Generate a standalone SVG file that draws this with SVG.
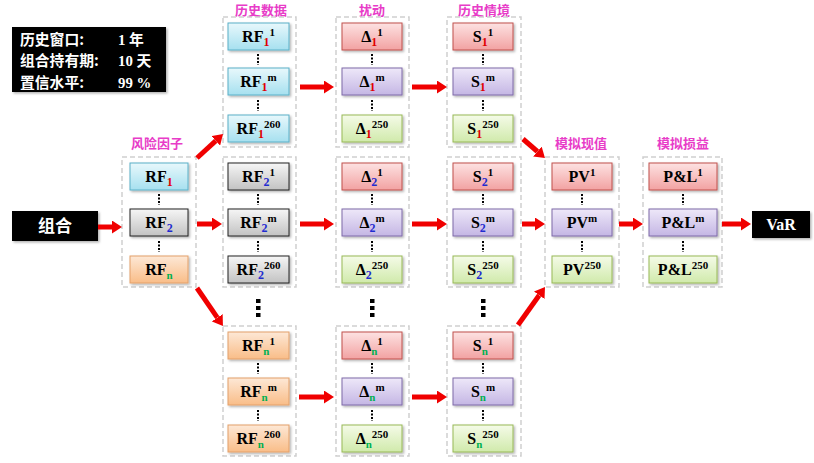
<svg xmlns="http://www.w3.org/2000/svg" width="814" height="463" viewBox="0 0 814 463">
<defs>
<linearGradient id="gB" x1="0" y1="0" x2="0" y2="1"><stop offset="0" stop-color="#e8f8fc"/><stop offset="1" stop-color="#a6e0ef"/></linearGradient>
<linearGradient id="gG" x1="0" y1="0" x2="0" y2="1"><stop offset="0" stop-color="#f6f6f6"/><stop offset="1" stop-color="#c2c2c2"/></linearGradient>
<linearGradient id="gO" x1="0" y1="0" x2="0" y2="1"><stop offset="0" stop-color="#fde8d6"/><stop offset="1" stop-color="#f9bd88"/></linearGradient>
<linearGradient id="gR" x1="0" y1="0" x2="0" y2="1"><stop offset="0" stop-color="#fde2e2"/><stop offset="1" stop-color="#f2a2a2"/></linearGradient>
<linearGradient id="gP" x1="0" y1="0" x2="0" y2="1"><stop offset="0" stop-color="#eee8f9"/><stop offset="1" stop-color="#c4b6e4"/></linearGradient>
<linearGradient id="gV" x1="0" y1="0" x2="0" y2="1"><stop offset="0" stop-color="#f5fbe8"/><stop offset="1" stop-color="#d0eaab"/></linearGradient>
<filter id="sh" x="-20%" y="-20%" width="140%" height="150%"><feDropShadow dx="1.5" dy="1.5" stdDeviation="1" flood-color="#000" flood-opacity="0.3"/></filter>
<marker id="ah" markerUnits="userSpaceOnUse" viewBox="0 0 10 13" refX="0" refY="6.5" markerWidth="10" markerHeight="13" orient="auto"><path d="M0,0 L10,6.5 L0,13 z" fill="#f00000"/></marker>
</defs>
<style>
.bx{stroke-width:1;filter:url(#sh)}
.cB{fill:url(#gB);stroke:#5ab0c8}
.cG{fill:url(#gG);stroke:#222}
.cO{fill:url(#gO);stroke:#e3a06a}
.cR{fill:url(#gR);stroke:#c0504d}
.cP{fill:url(#gP);stroke:#7f6aa8}
.cV{fill:url(#gV);stroke:#98b956}
.t{font-family:"Liberation Serif","DejaVu Serif",serif;font-weight:bold;font-size:16px;text-anchor:middle;fill:#000}
.sb{font-size:12px}
.s1{fill:#e00000}
.s2{fill:#1f2bd0}
.sn{fill:#00b050;font-size:11px}
.sp{font-size:11px}
.grp{fill:none;stroke:#cfcfcf;stroke-width:1.5;stroke-dasharray:5 3}
.lbl{font-family:"Noto Sans CJK SC",sans-serif;font-weight:bold;font-size:13px;fill:#e83cc8;text-anchor:middle}
.dt{stroke:#000;stroke-width:2;stroke-dasharray:2 1.5}
.bd{fill:#000}
.ar{stroke:#f00000;stroke-width:5;fill:none;marker-end:url(#ah)}
.wt{fill:#fff;font-weight:bold;font-size:14.8px}
.cj{font-family:"Noto Sans CJK SC",sans-serif}
.sf{font-family:"Liberation Serif","Noto Sans CJK SC",serif}
</style>
<rect width="814" height="463" fill="#fff"/>

<g id="info">
<rect x="12" y="27" width="154" height="65" fill="#000" filter="url(#sh)"/>
<text class="wt cj" x="20" y="44.5">历史窗口:</text>
<text class="wt sf" x="118" y="44.5">1 年</text>
<text class="wt cj" x="20" y="66">组合持有期:</text>
<text class="wt sf" x="118" y="66">10 天</text>
<text class="wt cj" x="20" y="87.5">置信水平:</text>
<text class="wt sf" x="118" y="87.5">99 %</text>
</g>

<g id="portfolio">
<rect x="12" y="211" width="86" height="30" fill="#000" filter="url(#sh)"/>
<text class="cj" x="55" y="232" fill="#fff" font-size="17" font-weight="bold" text-anchor="middle">组合</text>
</g>

<g id="var">
<rect x="752" y="211" width="58" height="27" fill="#000" filter="url(#sh)"/>
<text class="t" x="781" y="230" style="fill:#fff">VaR</text>
</g>

<g id="labels">
<text class="lbl" x="157" y="148">风险因子</text>
<text class="lbl" x="261" y="15">历史数据</text>
<text class="lbl" x="372" y="15">扰动</text>
<text class="lbl" x="484" y="15">历史情境</text>
<text class="lbl" x="581" y="148">模拟现值</text>
<text class="lbl" x="683" y="148">模拟损益</text>
</g>

<g id="groups">
<rect class="grp" x="122" y="157" width="74" height="130"/>
<rect class="grp" x="223" y="17" width="73" height="130"/>
<rect class="grp" x="223" y="157" width="73" height="130"/>
<rect class="grp" x="223" y="326" width="73" height="130"/>
<rect class="grp" x="336" y="17" width="73" height="130"/>
<rect class="grp" x="336" y="157" width="73" height="130"/>
<rect class="grp" x="336" y="326" width="73" height="130"/>
<rect class="grp" x="447" y="17" width="74" height="130"/>
<rect class="grp" x="447" y="157" width="74" height="130"/>
<rect class="grp" x="447" y="326" width="74" height="130"/>
<rect class="grp" x="545" y="157" width="74" height="130"/>
<rect class="grp" x="643" y="157" width="79" height="130"/>
</g>

<g id="dots">
<line class="dt" x1="159" y1="194" x2="159" y2="205"/><line class="dt" x1="159" y1="241" x2="159" y2="252"/>
<line class="dt" x1="258" y1="54" x2="258" y2="65"/><line class="dt" x1="258" y1="100" x2="258" y2="111"/>
<line class="dt" x1="258" y1="194" x2="258" y2="205"/><line class="dt" x1="258" y1="241" x2="258" y2="252"/>
<line class="dt" x1="258" y1="363" x2="258" y2="374"/><line class="dt" x1="258" y1="410" x2="258" y2="421"/>
<line class="dt" x1="372" y1="54" x2="372" y2="65"/><line class="dt" x1="372" y1="100" x2="372" y2="111"/>
<line class="dt" x1="372" y1="194" x2="372" y2="205"/><line class="dt" x1="372" y1="241" x2="372" y2="252"/>
<line class="dt" x1="372" y1="363" x2="372" y2="374"/><line class="dt" x1="372" y1="410" x2="372" y2="421"/>
<line class="dt" x1="483" y1="54" x2="483" y2="65"/><line class="dt" x1="483" y1="100" x2="483" y2="111"/>
<line class="dt" x1="483" y1="194" x2="483" y2="205"/><line class="dt" x1="483" y1="241" x2="483" y2="252"/>
<line class="dt" x1="483" y1="363" x2="483" y2="374"/><line class="dt" x1="483" y1="410" x2="483" y2="421"/>
<line class="dt" x1="582" y1="194" x2="582" y2="205"/><line class="dt" x1="582" y1="241" x2="582" y2="252"/>
<line class="dt" x1="683" y1="194" x2="683" y2="205"/><line class="dt" x1="683" y1="241" x2="683" y2="252"/>
<rect class="bd" x="256" y="299" width="4.5" height="4"/><rect class="bd" x="256" y="306" width="4.5" height="4"/><rect class="bd" x="256" y="313" width="4.5" height="4"/>
<rect class="bd" x="370" y="299" width="4.5" height="4"/><rect class="bd" x="370" y="306" width="4.5" height="4"/><rect class="bd" x="370" y="313" width="4.5" height="4"/>
<rect class="bd" x="481" y="299" width="4.5" height="4"/><rect class="bd" x="481" y="306" width="4.5" height="4"/><rect class="bd" x="481" y="313" width="4.5" height="4"/>
</g>

<!-- risk factors -->
<g id="rf1"><rect class="bx cB" x="130" y="163" width="58" height="27"/><text class="t" x="159" y="182">RF<tspan class="sb s1" dy="4">1</tspan></text></g>
<g id="rf2"><rect class="bx cG" x="130" y="209" width="58" height="27"/><text class="t" x="159" y="228">RF<tspan class="sb s2" dy="4">2</tspan></text></g>
<g id="rfn"><rect class="bx cO" x="130" y="256" width="58" height="27"/><text class="t" x="159" y="275">RF<tspan class="sn" dy="4">n</tspan></text></g>

<!-- historical data -->
<g id="h1_1"><rect class="bx cB" x="228" y="23" width="61" height="27"/><text class="t" x="258.5" y="42">RF<tspan class="sb s1" dy="4">1</tspan><tspan class="sp" dy="-10">1</tspan></text></g>
<g id="h1_m"><rect class="bx cB" x="228" y="68" width="61" height="27"/><text class="t" x="258.5" y="87">RF<tspan class="sb s1" dy="4">1</tspan><tspan class="sp" dy="-10">m</tspan></text></g>
<g id="h1_260"><rect class="bx cB" x="228" y="115" width="61" height="27"/><text class="t" x="258.5" y="134">RF<tspan class="sb s1" dy="4">1</tspan><tspan class="sp" dy="-10">260</tspan></text></g>
<g id="h2_1"><rect class="bx cG" x="228" y="163" width="61" height="27"/><text class="t" x="258.5" y="182">RF<tspan class="sb s2" dy="4">2</tspan><tspan class="sp" dy="-10">1</tspan></text></g>
<g id="h2_m"><rect class="bx cG" x="228" y="209" width="61" height="27"/><text class="t" x="258.5" y="228">RF<tspan class="sb s2" dy="4">2</tspan><tspan class="sp" dy="-10">m</tspan></text></g>
<g id="h2_260"><rect class="bx cG" x="228" y="256" width="61" height="27"/><text class="t" x="258.5" y="275">RF<tspan class="sb s2" dy="4">2</tspan><tspan class="sp" dy="-10">260</tspan></text></g>
<g id="hn_1"><rect class="bx cO" x="228" y="332" width="61" height="27"/><text class="t" x="258.5" y="351">RF<tspan class="sn" dy="4">n</tspan><tspan class="sp" dy="-10">1</tspan></text></g>
<g id="hn_m"><rect class="bx cO" x="228" y="378" width="61" height="27"/><text class="t" x="258.5" y="397">RF<tspan class="sn" dy="4">n</tspan><tspan class="sp" dy="-10">m</tspan></text></g>
<g id="hn_260"><rect class="bx cO" x="228" y="425" width="61" height="27"/><text class="t" x="258.5" y="444">RF<tspan class="sn" dy="4">n</tspan><tspan class="sp" dy="-10">260</tspan></text></g>

<!-- shocks -->
<g id="d1_1"><rect class="bx cR" x="342" y="23" width="60" height="27"/><text class="t" x="372" y="42">Δ<tspan class="sb s1" dy="4">1</tspan><tspan class="sp" dy="-10">1</tspan></text></g>
<g id="d1_m"><rect class="bx cP" x="342" y="68" width="60" height="27"/><text class="t" x="372" y="87">Δ<tspan class="sb s1" dy="4">1</tspan><tspan class="sp" dy="-10">m</tspan></text></g>
<g id="d1_250"><rect class="bx cV" x="342" y="115" width="60" height="27"/><text class="t" x="372" y="134">Δ<tspan class="sb s1" dy="4">1</tspan><tspan class="sp" dy="-10">250</tspan></text></g>
<g id="d2_1"><rect class="bx cR" x="342" y="163" width="60" height="27"/><text class="t" x="372" y="182">Δ<tspan class="sb s2" dy="4">2</tspan><tspan class="sp" dy="-10">1</tspan></text></g>
<g id="d2_m"><rect class="bx cP" x="342" y="209" width="60" height="27"/><text class="t" x="372" y="228">Δ<tspan class="sb s2" dy="4">2</tspan><tspan class="sp" dy="-10">m</tspan></text></g>
<g id="d2_250"><rect class="bx cV" x="342" y="256" width="60" height="27"/><text class="t" x="372" y="275">Δ<tspan class="sb s2" dy="4">2</tspan><tspan class="sp" dy="-10">250</tspan></text></g>
<g id="dn_1"><rect class="bx cR" x="342" y="332" width="60" height="27"/><text class="t" x="372" y="351">Δ<tspan class="sn" dy="4">n</tspan><tspan class="sp" dy="-10">1</tspan></text></g>
<g id="dn_m"><rect class="bx cP" x="342" y="378" width="60" height="27"/><text class="t" x="372" y="397">Δ<tspan class="sn" dy="4">n</tspan><tspan class="sp" dy="-10">m</tspan></text></g>
<g id="dn_250"><rect class="bx cV" x="342" y="425" width="60" height="27"/><text class="t" x="372" y="444">Δ<tspan class="sn" dy="4">n</tspan><tspan class="sp" dy="-10">250</tspan></text></g>

<!-- scenarios -->
<g id="s1_1"><rect class="bx cR" x="453" y="23" width="60" height="27"/><text class="t" x="483" y="42">S<tspan class="sb s1" dy="4">1</tspan><tspan class="sp" dy="-10">1</tspan></text></g>
<g id="s1_m"><rect class="bx cP" x="453" y="68" width="60" height="27"/><text class="t" x="483" y="87">S<tspan class="sb s1" dy="4">1</tspan><tspan class="sp" dy="-10">m</tspan></text></g>
<g id="s1_250"><rect class="bx cV" x="453" y="115" width="60" height="27"/><text class="t" x="483" y="134">S<tspan class="sb s1" dy="4">1</tspan><tspan class="sp" dy="-10">250</tspan></text></g>
<g id="s2_1"><rect class="bx cR" x="453" y="163" width="60" height="27"/><text class="t" x="483" y="182">S<tspan class="sb s2" dy="4">2</tspan><tspan class="sp" dy="-10">1</tspan></text></g>
<g id="s2_m"><rect class="bx cP" x="453" y="209" width="60" height="27"/><text class="t" x="483" y="228">S<tspan class="sb s2" dy="4">2</tspan><tspan class="sp" dy="-10">m</tspan></text></g>
<g id="s2_250"><rect class="bx cV" x="453" y="256" width="60" height="27"/><text class="t" x="483" y="275">S<tspan class="sb s2" dy="4">2</tspan><tspan class="sp" dy="-10">250</tspan></text></g>
<g id="sn_1"><rect class="bx cR" x="453" y="332" width="60" height="27"/><text class="t" x="483" y="351">S<tspan class="sn" dy="4">n</tspan><tspan class="sp" dy="-10">1</tspan></text></g>
<g id="sn_m"><rect class="bx cP" x="453" y="378" width="60" height="27"/><text class="t" x="483" y="397">S<tspan class="sn" dy="4">n</tspan><tspan class="sp" dy="-10">m</tspan></text></g>
<g id="sn_250"><rect class="bx cV" x="453" y="425" width="60" height="27"/><text class="t" x="483" y="444">S<tspan class="sn" dy="4">n</tspan><tspan class="sp" dy="-10">250</tspan></text></g>

<!-- present values -->
<g id="pv_1"><rect class="bx cR" x="552" y="163" width="60" height="27"/><text class="t" x="582" y="182">PV<tspan class="sp" dy="-6">1</tspan></text></g>
<g id="pv_m"><rect class="bx cP" x="552" y="209" width="60" height="27"/><text class="t" x="582" y="228">PV<tspan class="sp" dy="-6">m</tspan></text></g>
<g id="pv_250"><rect class="bx cV" x="552" y="256" width="60" height="27"/><text class="t" x="582" y="275">PV<tspan class="sp" dy="-6">250</tspan></text></g>

<!-- P&L -->
<g id="pl_1"><rect class="bx cR" x="649" y="163" width="68" height="27"/><text class="t" x="683" y="182">P&amp;L<tspan class="sp" dy="-6">1</tspan></text></g>
<g id="pl_m"><rect class="bx cP" x="649" y="209" width="68" height="27"/><text class="t" x="683" y="228">P&amp;L<tspan class="sp" dy="-6">m</tspan></text></g>
<g id="pl_250"><rect class="bx cV" x="649" y="256" width="68" height="27"/><text class="t" x="683" y="275">P&amp;L<tspan class="sp" dy="-6">250</tspan></text></g>

<g id="connectors">
<line class="ar" x1="98" y1="227" x2="112" y2="227"/>
<line class="ar" x1="197" y1="224" x2="212" y2="224"/>
<line class="ar" x1="197" y1="158" x2="215.7" y2="140.8"/>
<line class="ar" x1="197" y1="288" x2="217.3" y2="317.7"/>
<line class="ar" x1="300" y1="87" x2="324" y2="87"/>
<line class="ar" x1="412" y1="87" x2="437" y2="87"/>
<line class="ar" x1="300" y1="224" x2="324" y2="224"/>
<line class="ar" x1="412" y1="224" x2="437" y2="224"/>
<line class="ar" x1="299" y1="397" x2="324" y2="397"/>
<line class="ar" x1="412" y1="397" x2="437" y2="397"/>
<line class="ar" x1="523" y1="139" x2="537.4" y2="151.5"/>
<line class="ar" x1="522" y1="224" x2="535" y2="224"/>
<line class="ar" x1="518" y1="325" x2="539.2" y2="295.2"/>
<line class="ar" x1="619" y1="224" x2="633" y2="224"/>
<line class="ar" x1="722" y1="224" x2="741" y2="224"/>
</g>
</svg>
